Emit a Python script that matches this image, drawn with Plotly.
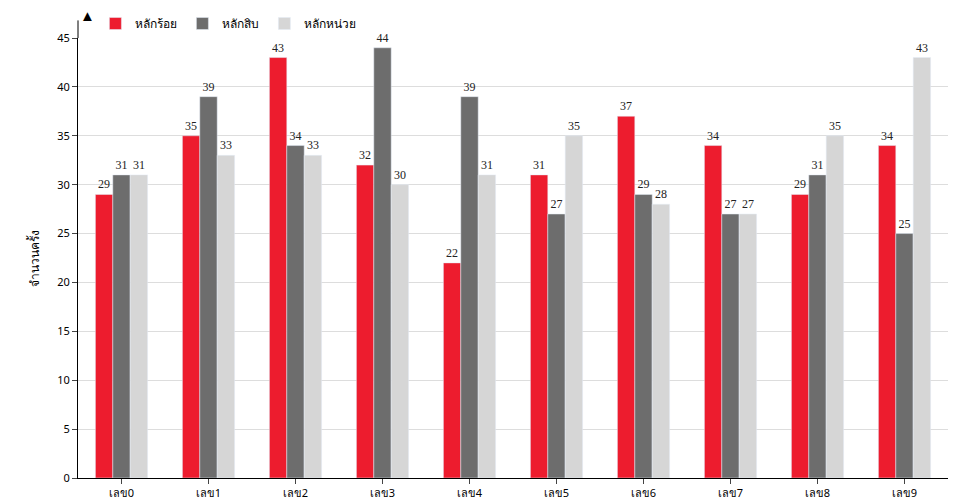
import plotly.graph_objects as go

categories = ["เลข0","เลข1","เลข2","เลข3","เลข4","เลข5","เลข6","เลข7","เลข8","เลข9"]
hundreds = [29,35,43,32,22,31,37,34,29,34]
tens = [31,39,34,44,39,27,29,27,31,25]
units = [31,33,33,30,31,35,28,27,35,43]
series = [("หลักร้อย", hundreds, "#ED1C2E"), ("หลักสิบ", tens, "#6D6D6D"), ("หลักหน่วย", units, "#D6D6D6")]

fig = go.Figure()
for name, vals, col in series:
    fig.add_bar(x=categories, y=vals, name=name, marker_color=col,
                text=vals, textposition="outside", cliponaxis=False,
                outsidetextfont=dict(family="Liberation Serif", size=12, color="#222"))

fig.update_layout(
    width=960, height=500, barmode="group", bargap=0.4, bargroupgap=0,
    margin=dict(l=70, r=20, t=30, b=30, autoexpand=False),
    plot_bgcolor="white", paper_bgcolor="white",
    font=dict(family="Noto Sans", size=11, color="#000"),
    legend=dict(orientation="h", x=0.02, y=1.0, xanchor="left", yanchor="bottom",
                font=dict(size=12), itemwidth=30),
    yaxis=dict(range=[0, 45], dtick=5, showgrid=True, gridcolor="#dddddd",
               showline=True, linecolor="black", ticks="outside", ticklen=5,
               title=dict(text="จำนวนครั้ง", font=dict(size=12)), zeroline=False),
    xaxis=dict(showline=True, linecolor="black", ticks="outside", ticklen=5,
               tickfont=dict(size=11)),
    showlegend=True,
)
fig.add_shape(type="line", xref="paper", yref="paper", x0=0, x1=0, y0=1, y1=1.04,
              line=dict(color="black", width=1))
fig.add_annotation(xref="paper", yref="paper", x=0, y=1.025, text="▲", showarrow=False,
                   font=dict(size=15, color="black"), yanchor="bottom")
fig.write_html("out.html")
